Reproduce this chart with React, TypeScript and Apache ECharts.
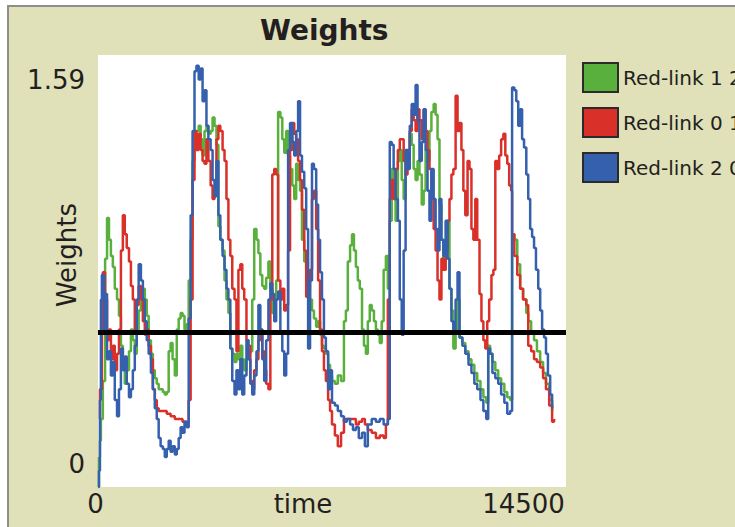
import React, { useEffect, useRef } from "react";
import * as echarts from "echarts";

const chartTitle = "Weights";
const xAxisName = "time";
const yAxisName = "Weights";
const xMin = 0;
const xMax = 14500;
const yMin = 0;
const yMax = 1.59;
const threshold = 0.575;

const seriesNames = ["Red-link 1 2", "Red-link 0 1", "Red-link 2 0"];
const seriesColors = ["#59b03c", "#d9302a", "#3560ae"];

// [time, weight]
const link12: [number, number][] = [
  [0, 0], [30, 0.11], [60, 0.17], [90, 0.25], [150, 0.39], [220, 0.84], [280, 0.99], [340, 0.91],
  [400, 0.85], [460, 0.81], [520, 0.73], [590, 0.69], [650, 0.63], [710, 0.52], [770, 0.47],
  [830, 0.38], [890, 0.43], [960, 0.5], [1020, 0.58], [1080, 0.54], [1140, 0.49], [1200, 0.58],
  [1260, 0.65], [1330, 0.69], [1390, 0.73], [1450, 0.69], [1510, 0.63], [1570, 0.54], [1640, 0.49],
  [1700, 0.43], [1760, 0.4], [1820, 0.38], [1880, 0.36], [1940, 0.36], [2010, 0.35], [2070, 0.34],
  [2130, 0.35], [2190, 0.5], [2250, 0.53], [2310, 0.47], [2380, 0.41], [2440, 0.58], [2500, 0.62],
  [2560, 0.64], [2620, 0.63], [2680, 0.58], [2750, 0.6], [2810, 0.76], [2870, 0.91], [2930, 1.2],
  [2990, 1.24], [3050, 1.31], [3120, 1.33], [3180, 1.28], [3240, 1.22], [3300, 1.31], [3360, 1.33],
  [3420, 1.3], [3490, 1.31], [3550, 1.36], [3610, 1.33], [3670, 1.26], [3730, 0.96], [3790, 0.91],
  [3860, 0.87], [3920, 0.76], [3980, 0.69], [4040, 0.64], [4100, 0.51], [4160, 0.49], [4230, 0.46],
  [4290, 0.49], [4350, 0.47], [4410, 0.52], [4470, 0.47], [4530, 0.43], [4600, 0.47], [4660, 0.49],
  [4720, 0.5], [4780, 0.69], [4840, 0.95], [4910, 0.91], [4970, 0.86], [5030, 0.78], [5090, 0.74],
  [5150, 0.73], [5210, 0.77], [5280, 0.83], [5340, 0.73], [5400, 0.64], [5460, 0.69], [5520, 0.76],
  [5580, 1.38], [5650, 1.36], [5710, 1.28], [5770, 1.23], [5830, 1.31], [5890, 1.22], [5950, 1.17],
  [6020, 1.11], [6080, 1.06], [6140, 1.19], [6200, 1.13], [6260, 1.09], [6320, 0.91], [6390, 0.83],
  [6450, 0.8], [6510, 0.73], [6570, 0.69], [6630, 0.65], [6690, 0.62], [6760, 0.59], [6820, 0.61],
  [6880, 0.56], [6940, 0.52], [7000, 0.51], [7060, 0.49], [7130, 0.45], [7190, 0.41], [7250, 0.39],
  [7340, 0.38], [7430, 0.41], [7530, 0.39], [7620, 0.61], [7680, 0.65], [7740, 0.83], [7810, 0.89],
  [7870, 0.93], [7930, 0.87], [7990, 0.81], [8050, 0.76], [8110, 0.73], [8180, 0.58], [8240, 0.52],
  [8300, 0.49], [8360, 0.61], [8420, 0.67], [8480, 0.65], [8550, 0.61], [8610, 0.58], [8670, 0.56],
  [8730, 0.53], [8790, 0.61], [8850, 0.8], [8920, 0.85], [8980, 0.73], [9040, 0.98], [9100, 1.17],
  [9160, 1.06], [9220, 0.98], [9290, 1.2], [9350, 1.24], [9410, 1.13], [9470, 1.06], [9530, 1.17],
  [9590, 1.22], [9660, 1.3], [9720, 1.26], [9780, 1.17], [9840, 1.13], [9900, 1.2], [9960, 1.15],
  [10030, 1.04], [10090, 1.09], [10150, 1.24], [10210, 1.2], [10270, 1.31], [10330, 1.38],
  [10400, 1.41], [10460, 1.37], [10520, 1.28], [10580, 1.04], [10640, 0.91], [10700, 0.8],
  [10770, 0.87], [10830, 0.98], [10890, 0.73], [10950, 0.65], [11010, 0.51], [11080, 0.58],
  [11140, 0.69], [11200, 0.55], [11290, 0.53], [11380, 0.5], [11480, 0.47], [11570, 0.45],
  [11660, 0.42], [11750, 0.39], [11850, 0.36], [11940, 0.33], [12030, 0.31], [12090, 0.52],
  [12150, 0.49], [12220, 0.46], [12310, 0.43], [12400, 0.4], [12490, 0.38], [12590, 0.35],
  [12680, 0.33], [12770, 0.32], [12830, 0.93], [12900, 0.91], [12990, 0.82], [13080, 0.73],
  [13170, 0.69], [13270, 0.64], [13330, 0.61], [13420, 0.57], [13510, 0.54], [13600, 0.5],
  [13700, 0.46], [13790, 0.42], [13880, 0.38], [13980, 0.32], [14070, 0.28],
];

const link01: [number, number][] = [
  [30, 0.25], [60, 0.36], [120, 0.69], [150, 0.79], [220, 0.69], [280, 0.54], [340, 0.58],
  [400, 0.47], [460, 0.52], [520, 0.43], [590, 0.49], [650, 0.58], [710, 0.87], [770, 1.0],
  [830, 0.93], [890, 0.88], [960, 0.83], [1020, 0.74], [1080, 0.69], [1140, 0.58], [1200, 0.67],
  [1260, 0.74], [1330, 0.69], [1390, 0.61], [1450, 0.56], [1510, 0.58], [1570, 0.52], [1640, 0.47],
  [1700, 0.36], [1760, 0.32], [1820, 0.29], [1880, 0.28], [2010, 0.28], [2130, 0.27], [2250, 0.26],
  [2380, 0.25], [2500, 0.25], [2620, 0.24], [2750, 0.23], [2810, 0.32], [2870, 0.69], [2930, 1.13],
  [2990, 1.31], [3050, 1.24], [3120, 1.3], [3180, 1.24], [3240, 1.2], [3300, 1.19], [3360, 1.28],
  [3420, 1.2], [3490, 1.11], [3550, 1.06], [3610, 1.09], [3670, 1.28], [3730, 1.33], [3790, 1.31],
  [3860, 1.24], [3920, 1.2], [3980, 1.06], [4040, 0.91], [4100, 0.85], [4160, 0.73], [4230, 0.69],
  [4290, 0.5], [4350, 0.8], [4410, 0.82], [4470, 0.73], [4530, 0.69], [4600, 0.54], [4660, 0.52],
  [4720, 0.39], [4780, 0.36], [4840, 0.43], [4910, 0.47], [4970, 0.54], [5030, 0.58], [5090, 0.5],
  [5150, 0.43], [5210, 0.38], [5280, 0.36], [5340, 0.69], [5400, 1.15], [5460, 1.17], [5520, 1.15],
  [5580, 0.76], [5650, 0.69], [5710, 0.73], [5770, 0.65], [5830, 0.67], [5890, 0.87], [5950, 1.24],
  [6020, 1.34], [6080, 1.3], [6140, 1.28], [6200, 1.2], [6260, 1.13], [6320, 1.02], [6390, 0.87],
  [6450, 0.7], [6510, 0.73], [6570, 0.8], [6630, 1.06], [6690, 1.09], [6760, 0.95], [6820, 0.76],
  [6880, 0.58], [6940, 0.5], [7000, 0.43], [7060, 0.39], [7130, 0.32], [7190, 0.28], [7250, 0.23],
  [7340, 0.19], [7430, 0.15], [7530, 0.2], [7620, 0.25], [7710, 0.25], [7810, 0.25], [7900, 0.25],
  [7990, 0.23], [8080, 0.24], [8180, 0.25], [8270, 0.23], [8360, 0.21], [8480, 0.2], [8610, 0.18],
  [8730, 0.19], [8850, 0.18], [8920, 0.23], [8980, 0.69], [9040, 1.06], [9100, 1.13], [9160, 1.06],
  [9220, 1.17], [9290, 1.24], [9350, 1.28], [9410, 1.28], [9470, 1.2], [9530, 1.15], [9590, 1.24],
  [9660, 1.31], [9720, 1.39], [9780, 1.35], [9840, 1.31], [9900, 1.39], [9960, 1.35], [10030, 1.28],
  [10090, 1.39], [10150, 1.31], [10210, 1.24], [10270, 1.17], [10330, 1.06], [10400, 0.95],
  [10460, 0.87], [10520, 0.76], [10580, 0.69], [10640, 0.84], [10700, 0.8], [10770, 0.87],
  [10830, 0.98], [10890, 1.06], [10950, 1.15], [11010, 1.17], [11080, 1.44], [11140, 1.31],
  [11200, 1.34], [11260, 1.24], [11320, 1.09], [11380, 1.0], [11450, 1.2], [11510, 1.17],
  [11570, 0.95], [11630, 0.91], [11690, 1.06], [11750, 0.91], [11820, 0.71], [11880, 0.61],
  [11940, 0.54], [12000, 0.51], [12060, 0.61], [12120, 0.69], [12190, 0.78], [12250, 0.8],
  [12310, 1.2], [12370, 1.17], [12430, 1.22], [12490, 1.28], [12560, 1.3], [12620, 1.22],
  [12680, 1.19], [12740, 1.11], [12800, 1.09], [12830, 0.93], [12900, 0.85], [12990, 0.78],
  [13080, 0.73], [13170, 0.69], [13270, 0.67], [13330, 0.52], [13420, 0.5], [13510, 0.47],
  [13600, 0.46], [13700, 0.44], [13790, 0.4], [13880, 0.36], [13980, 0.3], [14070, 0.24],
  [14130, 0.25],
];

const link20: [number, number][] = [
  [0, 0], [30, 0.06], [60, 0.32], [90, 0.69], [120, 0.78], [190, 0.57], [220, 0.71], [280, 0.47],
  [340, 0.5], [400, 0.41], [460, 0.46], [520, 0.32], [590, 0.26], [650, 0.36], [710, 0.51],
  [770, 0.43], [830, 0.48], [890, 0.38], [960, 0.33], [1020, 0.36], [1080, 0.43], [1140, 0.52],
  [1200, 0.69], [1260, 0.82], [1330, 0.76], [1390, 0.69], [1450, 0.61], [1510, 0.54], [1570, 0.49],
  [1640, 0.42], [1700, 0.36], [1760, 0.29], [1820, 0.25], [1880, 0.18], [1940, 0.15], [2010, 0.14],
  [2070, 0.11], [2130, 0.14], [2190, 0.17], [2250, 0.13], [2310, 0.15], [2380, 0.12], [2440, 0.14],
  [2500, 0.18], [2560, 0.22], [2620, 0.2], [2680, 0.24], [2750, 0.22], [2810, 0.62], [2870, 1.0],
  [2930, 1.31], [2990, 1.53], [3050, 1.55], [3120, 1.5], [3180, 1.54], [3240, 1.42], [3300, 1.46],
  [3360, 1.33], [3420, 1.28], [3490, 1.24], [3550, 1.13], [3610, 1.07], [3670, 1.2], [3730, 1.0],
  [3790, 0.91], [3860, 0.85], [3920, 0.8], [3980, 0.73], [4040, 0.69], [4100, 0.51], [4160, 0.39],
  [4230, 0.34], [4290, 0.43], [4350, 0.36], [4410, 0.47], [4470, 0.34], [4530, 0.41], [4600, 0.54],
  [4660, 0.47], [4720, 0.38], [4780, 0.34], [4840, 0.41], [4910, 0.5], [4970, 0.67], [5030, 0.58],
  [5090, 0.47], [5150, 0.39], [5210, 0.54], [5280, 0.69], [5340, 0.75], [5400, 0.71], [5460, 0.61],
  [5520, 0.69], [5580, 0.72], [5650, 0.57], [5710, 0.5], [5770, 0.41], [5830, 0.49], [5890, 1.24],
  [5950, 1.34], [6020, 1.27], [6080, 1.22], [6140, 1.31], [6200, 1.42], [6260, 1.22], [6320, 1.16],
  [6390, 1.1], [6450, 0.95], [6510, 0.51], [6570, 0.76], [6630, 1.19], [6690, 1.17], [6760, 1.04],
  [6820, 0.91], [6880, 0.79], [6940, 0.69], [7000, 0.55], [7060, 0.5], [7130, 0.36], [7190, 0.43],
  [7250, 0.31], [7340, 0.3], [7430, 0.28], [7530, 0.26], [7620, 0.24], [7710, 0.25], [7810, 0.23],
  [7900, 0.21], [7990, 0.22], [8080, 0.18], [8180, 0.2], [8270, 0.15], [8360, 0.23], [8480, 0.25],
  [8610, 0.24], [8730, 0.25], [8850, 0.23], [8980, 0.25], [9040, 1.27], [9100, 1.26], [9160, 1.17],
  [9220, 1.06], [9290, 0.98], [9350, 0.69], [9410, 0.56], [9470, 0.87], [9530, 1.24], [9590, 1.17],
  [9660, 1.33], [9720, 1.41], [9780, 1.37], [9840, 1.48], [9900, 1.35], [9960, 1.2], [10030, 1.27],
  [10090, 1.39], [10150, 1.24], [10210, 1.09], [10270, 0.98], [10330, 1.17], [10400, 1.06],
  [10460, 0.95], [10520, 0.87], [10580, 1.06], [10640, 0.91], [10700, 0.85], [10770, 0.98],
  [10830, 0.84], [10890, 0.73], [10950, 0.61], [11010, 0.58], [11080, 0.69], [11140, 0.79],
  [11200, 0.55], [11290, 0.52], [11380, 0.49], [11480, 0.45], [11570, 0.42], [11660, 0.38],
  [11750, 0.36], [11850, 0.32], [11940, 0.28], [12030, 0.25], [12090, 0.51], [12150, 0.49],
  [12220, 0.42], [12310, 0.4], [12400, 0.38], [12490, 0.34], [12590, 0.31], [12680, 0.27],
  [12770, 0.28], [12830, 1.47], [12900, 1.46], [12960, 1.42], [13020, 1.33], [13080, 1.39],
  [13140, 1.28], [13200, 1.25], [13270, 1.15], [13330, 1.06], [13390, 0.95], [13450, 0.92],
  [13510, 0.88], [13570, 0.8], [13640, 0.73], [13700, 0.65], [13760, 0.58], [13820, 0.55],
  [13880, 0.49], [13940, 0.41], [14010, 0.34], [14070, 0.29],
];

const seriesData = [link12, link01, link20];

const FONT = "DejaVu Sans";
const INK = "#231f20";

export default function App() {
  const ref = useRef<HTMLDivElement>(null);

  useEffect(() => {
    if (!ref.current) return;
    const chart = echarts.init(ref.current, null, { renderer: "svg" });

    const series: any[] = seriesData.map((data, i) => ({
      name: seriesNames[i],
      type: "line",
      step: "end",
      data,
      showSymbol: false,
      symbol: "none",
      color: seriesColors[i],
      lineStyle: { color: seriesColors[i], width: 2.5 },
      z: 2 + i,
      silent: true,
    }));
    series[2].markLine = {
      silent: true,
      symbol: ["none", "none"],
      label: { show: false },
      lineStyle: { color: "#000", width: 5, type: "solid" },
      data: [{ yAxis: threshold }],
      z: 10,
    };

    chart.setOption({
      animation: false,
      backgroundColor: "#ffffff",
      graphic: [
        {
          type: "rect",
          z: -10,
          shape: { x: 8, y: 6, width: 740, height: 530 },
          style: { fill: "#e0e0b9", stroke: "#8e8e8e", lineWidth: 2 },
        },
      ],
      title: {
        text: chartTitle,
        left: 260,
        top: 16,
        padding: 0,
        textStyle: { fontFamily: FONT, fontSize: 28, fontWeight: "bold", color: INK },
      },
      legend: {
        orient: "vertical",
        left: 577,
        top: 57,
        itemWidth: 35,
        itemHeight: 29,
        itemGap: 14,
        icon: "rect",
        data: seriesNames,
        itemStyle: { borderColor: "#2b2b2b", borderWidth: 2 },
        textStyle: { fontFamily: FONT, fontSize: 20, color: INK },
      },
      grid: {
        left: 98,
        top: 55,
        right: 169,
        bottom: 40,
        outerBoundsMode: "none",
        containLabel: false,
        show: true,
        backgroundColor: "#ffffff",
        borderWidth: 0,
      },
      xAxis: {
        type: "value",
        min: xMin,
        max: xMax,
        interval: xMax - xMin,
        name: xAxisName,
        nameLocation: "middle",
        nameGap: 4,
        nameMoveOverlap: false,
        nameTextStyle: {
          fontFamily: FONT,
          fontSize: 26,
          color: INK,
          verticalAlign: "top",
          padding: [0, 58, 0, 0],
        },
        axisLine: { show: false },
        axisTick: { show: false },
        splitLine: { show: false },
        axisLabel: {
          margin: 4,
          fontFamily: FONT,
          fontSize: 26,
          color: INK,
          formatter: (v: number) => (v === xMin ? `{a|${v}}` : `{b|${v}}`),
          rich: {
            a: { fontFamily: FONT, fontSize: 26, color: INK, padding: [0, 5, 0, 0] },
            b: { fontFamily: FONT, fontSize: 26, color: INK, padding: [0, 85, 0, 0] },
          },
        },
      },
      yAxis: {
        type: "value",
        min: yMin,
        max: yMax,
        interval: yMax - yMin,
        name: yAxisName,
        nameLocation: "middle",
        nameGap: 18,
        nameMoveOverlap: false,
        nameTextStyle: {
          fontFamily: FONT,
          fontSize: 26,
          color: INK,
          padding: [0, 0, 0, 32],
        },
        axisLine: { show: false },
        axisTick: { show: false },
        splitLine: { show: false },
        axisLabel: {
          margin: 13,
          fontFamily: FONT,
          fontSize: 26,
          color: INK,
          formatter: (v: number) => (v === yMin ? `{b|${v}}` : `{t|${v}}`),
          rich: {
            t: { fontFamily: FONT, fontSize: 26, color: INK, padding: [50, 0, 0, 0] },
            b: { fontFamily: FONT, fontSize: 26, color: INK, padding: [0, 0, 46, 0] },
          },
        },
      },
      series,
    });

    return () => chart.dispose();
  }, []);

  return (
    <div
      ref={ref}
      style={{ position: "absolute", left: 0, top: 0, width: 735, height: 527 }}
    />
  );
}
